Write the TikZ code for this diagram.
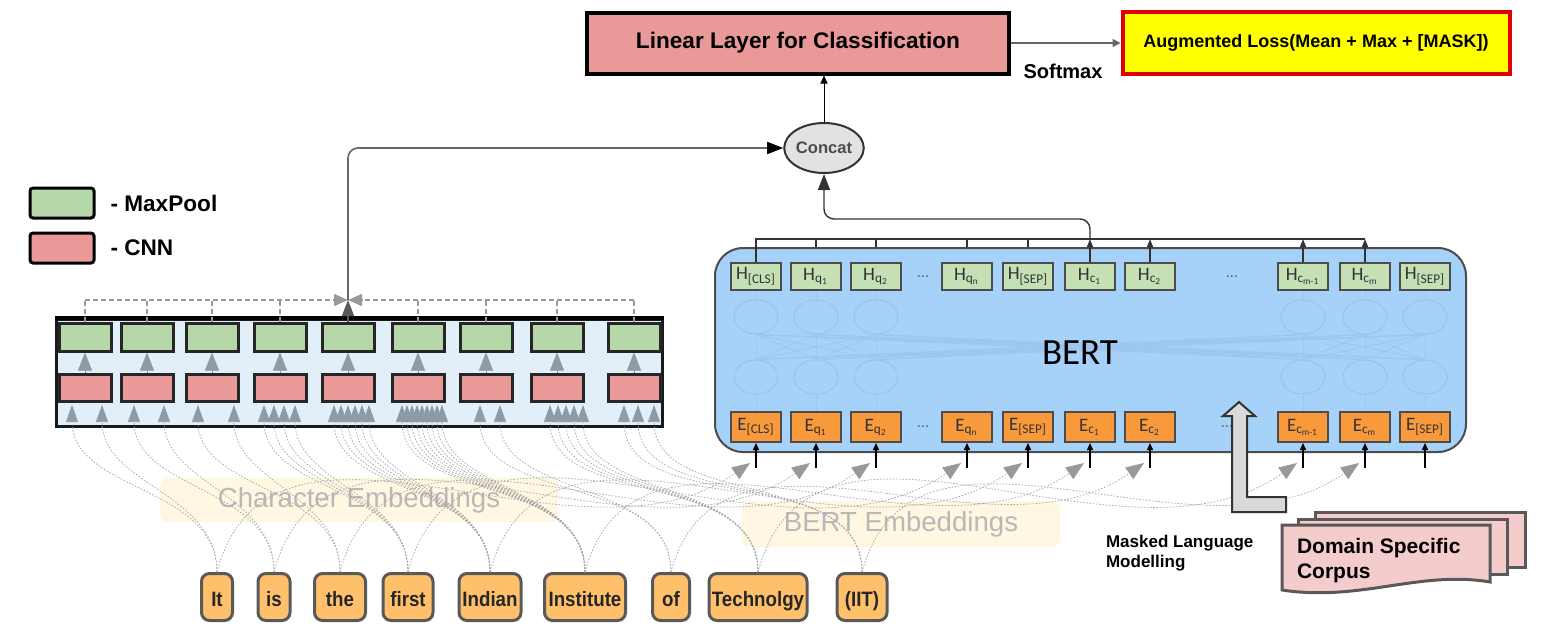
\documentclass[tikz,border=0pt]{standalone}
\usepackage{fontspec}
\setmainfont{Liberation Sans}
\newfontfamily\bertfont{Carlito}
\newfontfamily\wordfont[FakeStretch=0.9]{Liberation Sans}
\usetikzlibrary{arrows.meta,shapes.geometric}
\definecolor{linear}{HTML}{EA9999}
\definecolor{maxpool}{HTML}{B6D7A8}
\definecolor{cnnbg}{HTML}{E2EEF8}
\definecolor{bert}{HTML}{A6D2FA}
\definecolor{bertring}{HTML}{93BDE3}
\definecolor{hbox}{HTML}{C6E0B6}
\definecolor{ebox}{HTML}{F8993B}
\definecolor{word}{HTML}{FFC06B}
\definecolor{loss}{HTML}{FFFF00}
\definecolor{lossedge}{HTML}{E00000}
\definecolor{concat}{HTML}{E2E2E2}
\definecolor{corpus}{HTML}{F4CCCC}
\definecolor{mlm}{HTML}{D9D9D9}
\definecolor{tip}{HTML}{8D9BA5}
\definecolor{embtag}{HTML}{FFF7E2}
\tikzset{linear/.style={draw=black,line width=2pt,fill=linear,minimum width=211pt,minimum height=30.5pt,font=\bfseries\fontsize{11.3}{13}\selectfont}}
\tikzset{loss/.style={draw=lossedge,line width=2pt,fill=loss,minimum width=193.5pt,minimum height=31pt,font=\bfseries\fontsize{9}{11}\selectfont}}
\tikzset{concat/.style={ellipse,draw=black!80,line width=1pt,fill=concat,minimum width=38pt,minimum height=25pt,inner sep=0,text=black!70,font=\bfseries\fontsize{8.3}{10}\selectfont}}
\tikzset{legendbox/.style={draw=black,line width=1.5pt,rounded corners=1.5pt,minimum width=32pt,minimum height=15pt}}
\tikzset{legendtext/.style={anchor=west,font=\bfseries\fontsize{11.3}{13}\selectfont}}
\tikzset{cnnblock/.style={draw=black!90,line width=1.5pt,fill=cnnbg,minimum width=303pt,minimum height=53.5pt}}
\tikzset{pool/.style={draw=black!85,line width=1.5pt,fill=maxpool,minimum width=26pt,minimum height=14pt,inner sep=0}}
\tikzset{conv/.style={draw=black!85,line width=1.5pt,fill=linear,minimum width=26pt,minimum height=13.5pt,inner sep=0}}
\tikzset{uptip/.style={draw=tip,line width=0.2pt,-{Triangle[length=9pt,width=7pt]}}}
\tikzset{dashline/.style={draw=black!40,line width=0.8pt,dash pattern=on 2.5pt off 1.5pt}}
\tikzset{feed/.style={draw=black!60,line width=0.8pt,rounded corners=5pt,-{Triangle[length=8pt,width=6pt,color=black]}}}
\tikzset{bertblock/.style={draw=black!70,line width=1pt,fill=bert,rounded corners=14pt,minimum width=375.5pt,minimum height=102pt}}
\tikzset{hid/.style={draw=black!70,line width=1pt,fill=hbox,minimum width=25pt,minimum height=13.5pt,inner sep=0,text=black!80,font=\bertfont\fontsize{9.5}{10}\selectfont}}
\tikzset{emb/.style={draw=black!70,line width=1pt,fill=ebox,minimum width=25pt,minimum height=15pt,inner sep=0,text=black!80,font=\bertfont\fontsize{9.5}{10}\selectfont}}
\tikzset{ring/.style={ellipse,draw=bertring!70!bert,line width=0.5pt,minimum width=22pt,minimum height=17pt,inner sep=0}}
\tikzset{faint/.style={draw=bertring!55!bert,line width=0.4pt}}
\tikzset{dots/.style={text=black!60,font=\bertfont\fontsize{8}{9}\selectfont}}
\tikzset{outline/.style={draw=black!80,line width=0.7pt}}
\tikzset{inarrow/.style={draw=black,line width=0.7pt,-{Triangle[length=3.5pt,width=3pt]}}}
\tikzset{tok/.style={draw=black!65,line width=1.5pt,fill=word,rounded corners=4pt,minimum height=23.5pt,inner sep=0,text height=10pt,text depth=1pt,text=black!85,font=\wordfont\bfseries\fontsize{10.4}{12}\selectfont}}
\tikzset{tag/.style={fill=embtag,rounded corners=4pt,inner sep=0,text=black!28,font=\fontsize{13.8}{15}\selectfont}}
\tikzset{charcurve/.style={draw=black!35,line width=0.35pt,dash pattern=on 0.8pt off 0.8pt,-{Triangle[length=8.5pt,width=6pt,color=tip]}}}
\tikzset{tokcurve/.style={draw=black!35,line width=0.35pt,dash pattern=on 0.8pt off 0.8pt,-{Triangle[length=9pt,width=7pt,color=black!40]}}}
\tikzset{mlmarrow/.style={draw=black!80,line width=1pt,fill=mlm}}
\tikzset{page/.style={draw=black!65,line width=1.5pt,fill=corpus}}

\begin{document}
\begin{tikzpicture}[x=0.5pt,y=-0.5pt]
    \useasboundingbox (0,0) rectangle (1549,638);

    \node[tag,minimum width=199pt,minimum height=22pt] (chartag) at (359,500) {Character Embeddings};
    \node[tag,minimum width=159pt,minimum height=23pt] (berttag) at (901,524) {BERT Embeddings};

    \node[cnnblock] (cnn) at (359,372.5) {};
    \draw[line width=2pt] (cnn.north west) -- (cnn.north east);
    \foreach \i/\x in {1/85,2/147,3/212,4/280,5/348,6/418,7/486,8/557,9/634} {
        \node[pool] (mp\i) at (\x,337) {};
        \node[conv] (cv\i) at (\x,388) {};
        \draw[uptip] (cv\i.north) -- (mp\i.south);
    }

    \coordinate (merge) at (348,300);
    \foreach \i in {1,2,3,4,6,7,8,9}
        \draw[dashline] (mp\i.north) -- (mp\i.north |- merge);
    \draw[dashline,-{Triangle[length=7pt,width=6pt]}] (mp1.north |- merge) -- (merge);
    \draw[dashline,-{Triangle[length=7pt,width=6pt]}] (mp9.north |- merge) -- (merge);
    \draw[draw=black!65,line width=0.8pt,-{Triangle[length=8pt,width=6pt]}] (mp5.north) -- (merge);

    \node[bertblock] (bert) at (1090.5,350) {};
    \coordinate (rowup) at (0,317);
    \coordinate (rowlo) at (0,377);
    \foreach \i/\x/\lab in {1/756/{[CLS]},2/816/{q\textsubscript{1}},3/876/{q\textsubscript{2}},4/967/{q\textsubscript{n}},5/1028/{[SEP]},6/1090/{c\textsubscript{1}},7/1150/{c\textsubscript{2}},8/1303/{c\textsubscript{m-1}},9/1365/{c\textsubscript{m}},10/1425/{[SEP]}} {
        \node[hid] (h\i) at (\x,276.5) {H\textsubscript{\lab}};
        \node[emb] (e\i) at (\x,427) {E\textsubscript{\lab}};
        \coordinate (in\i) at (\x,468);
        \coordinate (tip\i) at ({\x-6},463);
        \draw[inarrow] (in\i) -- (e\i.south);
    }
    \foreach \i in {1,2,3,8,9,10} {
        \node[ring] (up\i) at (h\i |- rowup) {};
        \node[ring] (lo\i) at (h\i |- rowlo) {};
        \draw[faint] (e\i.north) -- (lo\i.south);
        \draw[faint] (up\i.north) -- (h\i.south);
    }
    \foreach \i in {1,2,3,8,9,10}
        \foreach \j in {1,2,3,8,9,10}
            \draw[faint] (lo\i.north) -- (up\j.south);
    \node[font=\bertfont\fontsize{18.5}{20}\selectfont] (berttxt) at (1080,353) {BERT};
    \node[dots] (hd1) at (923,277) {...};
    \node[dots] (hd2) at (1232,277) {...};
    \node[dots] (ed1) at (923,427) {...};
    \node[dots] (ed2) at (1227,427) {...};

    \foreach \i/\x/\w/\t in {1/217/31/It,2/274/32/is,3/340/51/the,4/408/50/first,5/490/62/Indian,6/585/81/Institute,7/671/37/of,8/758/98/Technolgy,9/862/50/{(IIT)}}
        \node[tok,minimum width=\w*0.5pt] (w\i) at (\x,597) {\t};

    \foreach \x/\i in {72/1,102/1,134/2,164/2,198/3,234/3,264/4,274/4,284/4,295/4,334/5,341/5,348/5,355/5,362/5,369/5,402/6,407/6,412/6,417/6,422/6,427/6,432/6,437/6,442/6,480/7,500/7,550/8,558/8,566/8,574/8,583/8,624/9,638/9,654/9} {
        \coordinate (ch\x) at (\x,405);
        \draw[charcurve] (w\i.north) to[out=90,in=-90] (ch\x);
    }
    \foreach \i in {1,...,9}
        \draw[tokcurve] (w\i.north) to[out=75,in=215] (tip\i);

    \node[legendbox,fill=maxpool] (lgpool) at (62,203) {};
    \node[legendtext] (lgpooltxt) at ([xshift=4pt]lgpool.east) {- MaxPool};
    \node[legendbox,fill=linear] (lgconv) at (62,248) {};
    \node[legendtext] (lgconvtxt) at ([xshift=4pt]lgconv.east) {- CNN};

    \node[linear] (lin) at (798,43) {Linear Layer for Classification};
    \node[loss] (aug) at (1316,43) {Augmented Loss(Mean + Max + [MASK])};
    \node[font=\bfseries\fontsize{10}{12}\selectfont] (soft) at (1063,71) {Softmax};
    \node[concat] (cat) at (824,148) {Concat};

    \draw[draw=black!60,line width=0.8pt,-{Triangle[length=4pt,width=4pt]}] (lin.east) -- (aug.west);
    \draw[draw=black,line width=0.5pt,-{Triangle[length=4pt,width=3.5pt]}] (cat.north) -- (cat.north |- lin.south);
    \draw[feed] (merge) |- (cat.west);

    \coordinate (bar) at (1090,239);
    \draw[outline] (h1.north) -- (h1.north |- bar) -- (h9.north |- bar);
    \foreach \i in {2,3,4,5}
        \draw[outline] (h\i.north |- bar) -- (h\i.north |- bert.north);
    \foreach \i in {6,7,8,9}
        \draw[outline,-{Triangle[length=4pt,width=3pt]}] (h\i.north) -- (h\i.north |- bar);
    \draw[outline,rounded corners=5pt,-{Triangle[length=8pt,width=6pt]}] (h6.north |- bar) -- ++(0,-20) -| (cat.south);

    \draw[mlmarrow] (1239,402) -- (1255,416) -- (1247,416) -- (1247,497) -- (1286,497) -- (1286,512) -- (1232,512) -- (1232,416) -- (1223,416) -- cycle;
    \node[anchor=west,align=left,font=\bfseries\fontsize{8.5}{10}\selectfont] (mlmtxt) at (1099,553) {Masked Language\\Modelling};

    \draw[page] (1315,512) -- (1525,512) -- (1525,567) -- (1315,567) -- cycle;
    \draw[page] (1298,519) -- (1507,519) -- (1507,574) -- (1298,574) -- cycle;
    \draw[page] (1282,525) -- (1490,525) -- (1490,582) .. controls (1420,570) and (1360,602) .. (1282,590) -- cycle;
    \node[anchor=west,align=left,font=\bfseries\fontsize{10.5}{12.5}\selectfont] (corpustxt) at (1290,561) {Domain Specific\\Corpus};

\end{tikzpicture}
\end{document}
